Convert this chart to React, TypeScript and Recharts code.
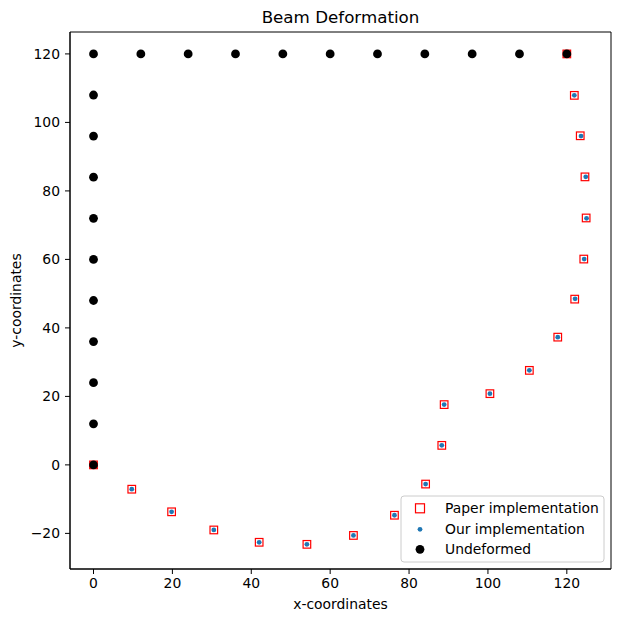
import React from 'react';
import { ScatterChart, Scatter, XAxis, YAxis, ReferenceArea } from 'recharts';

const paperX = [0, 9.7, 19.8, 30.5, 42.0, 54.1, 65.9, 76.3, 84.2, 88.3, 88.9, 100.5, 110.5, 117.7, 122.0, 124.3, 124.9, 124.6, 123.4, 121.9, 120.0];
const paperY = [0, -7.1, -13.7, -19.0, -22.6, -23.2, -20.6, -14.7, -5.6, 5.7, 17.6, 20.8, 27.6, 37.3, 48.4, 60.1, 72.1, 84.1, 96.1, 107.9, 120.0];
const ourX = [0, 9.7, 19.8, 30.5, 42.0, 54.1, 65.9, 76.3, 84.2, 88.3, 88.9, 100.5, 110.5, 117.7, 122.1, 124.4, 125.0, 124.8, 123.6, 121.9, 120.0];
const ourY = [0, -7.1, -13.7, -19.0, -22.6, -23.2, -20.6, -14.7, -5.6, 5.7, 17.6, 20.8, 27.6, 37.3, 48.5, 60.1, 72.0, 84.1, 96.0, 107.9, 120.0];
const undeformedX = [0, 0, 0, 0, 0, 0, 0, 0, 0, 0, 0, 12, 24, 36, 48, 60, 72, 84, 96, 108, 120];
const undeformedY = [0, 12, 24, 36, 48, 60, 72, 84, 96, 108, 120, 120, 120, 120, 120, 120, 120, 120, 120, 120, 120];
const xTicks = [0, 20, 40, 60, 80, 100, 120];
const yTicks = [-20, 0, 20, 40, 60, 80, 100, 120];
const legendLabels = ['Paper implementation', 'Our implementation', 'Undeformed'];

const xDomain: [number, number] = [-5.96, 131.2];
const yDomain: [number, number] = [-30.4, 126.4];

const zip = (xs: number[], ys: number[]) => xs.map((x, i) => ({ x, y: ys[i] }));
const paperData = zip(paperX, paperY);
const ourData = zip(ourX, ourY);
const undeformedData = zip(undeformedX, undeformedY);

const FONT = '"DejaVu Sans", sans-serif';
const fmt = (v: number) => (v < 0 ? '\u2212' + Math.abs(v) : String(v));

const SquareShape = (props: any) => {
  const { cx, cy } = props;
  if (cx == null || cy == null) return null;
  return <rect x={cx - 3.8} y={cy - 3.8} width={7.6} height={7.6} fill="none" stroke="#ff0000" strokeWidth={1.2} />;
};
const BlueDot = (props: any) => {
  const { cx, cy } = props;
  if (cx == null || cy == null) return null;
  return <circle cx={cx} cy={cy} r={2.4} fill="#1f77b4" />;
};
const BlackDot = (props: any) => {
  const { cx, cy } = props;
  if (cx == null || cy == null) return null;
  return <circle cx={cx} cy={cy} r={4.4} fill="#000000" />;
};

const tickStyle = { fill: '#000', fontSize: 13.9, fontFamily: FONT };

export default function App() {
  return (
    <div style={{ position: 'absolute', left: 0, top: 0, width: 621, height: 622, background: '#fff' }}>
      <ScatterChart width={621} height={622} margin={{ top: 32, right: 10, bottom: 23, left: 10 }}>
        <XAxis
          type="number"
          dataKey="x"
          domain={xDomain}
          ticks={xTicks}
          allowDataOverflow
          height={30}
          tickSize={5}
          tickMargin={4}
          tick={tickStyle}
          tickFormatter={fmt}
          stroke="#000"
          tickLine={{ stroke: '#000' }}
          label={{ value: 'x-coordinates', position: 'bottom', offset: 0, style: { fill: '#000', fontSize: 13.9, fontFamily: FONT } }}
        />
        <YAxis
          type="number"
          dataKey="y"
          domain={yDomain}
          ticks={yTicks}
          allowDataOverflow
          width={60}
          tickSize={5}
          tickMargin={5}
          tick={tickStyle}
          tickFormatter={fmt}
          stroke="#000"
          tickLine={{ stroke: '#000' }}
          label={{ value: 'y-coordinates', angle: -90, position: 'insideLeft', offset: 6, style: { fill: '#000', fontSize: 13.9, fontFamily: FONT, textAnchor: 'middle' } }}
        />
        <ReferenceArea x1={xDomain[0]} x2={xDomain[1]} y1={yDomain[0]} y2={yDomain[1]} fill="none" stroke="#000" strokeWidth={1} ifOverflow="visible" />
        <Scatter name={legendLabels[0]} data={paperData} shape={SquareShape} isAnimationActive={false} />
        <Scatter name={legendLabels[1]} data={ourData} shape={BlueDot} isAnimationActive={false} />
        <Scatter name={legendLabels[2]} data={undeformedData} shape={BlackDot} isAnimationActive={false} />
      </ScatterChart>
      <svg width={621} height={622} style={{ position: 'absolute', left: 0, top: 0, pointerEvents: 'none' }}>
        <text x={340.5} y={23} textAnchor="middle" fontSize={16.7} fontFamily={FONT} fill="#000">Beam Deformation</text>
        <g transform="translate(401,496)">
          <rect x={0} y={0} width={203} height={66} rx={3} fill="rgba(255,255,255,0.8)" stroke="#cccccc" strokeWidth={1} />
          <rect x={19 - 4.5} y={12.3 - 4.5} width={9} height={9} fill="none" stroke="#ff0000" strokeWidth={1.2} />
          <circle cx={19} cy={33.3} r={2.4} fill="#1f77b4" />
          <circle cx={19} cy={53.3} r={4.4} fill="#000" />
          {legendLabels.map((l, i) => (
            <text key={l} x={44} y={[12.3, 33.3, 53.3][i] + 5} fontSize={13.9} fontFamily={FONT} fill="#000">{l}</text>
          ))}
        </g>
      </svg>
    </div>
  );
}
